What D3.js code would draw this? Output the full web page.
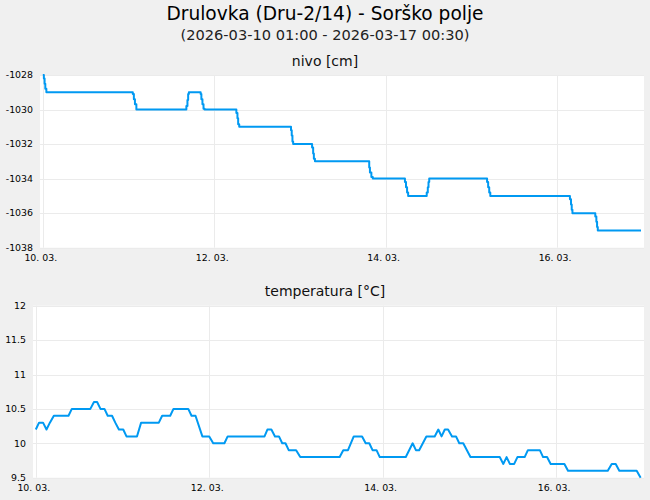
<!DOCTYPE html>
<html>
<head>
<meta charset="utf-8">
<script src="https://cdn.jsdelivr.net/npm/d3@7"></script>
<style>
  body { margin: 0; background: #f0f0f0; }
  svg { display: block; font-family: "DejaVu Sans", sans-serif; }
</style>
</head>
<body>
<svg id="chart" width="650" height="500"></svg>
<script>
// data: hours after 2026-03-10 00:00
const nivoHours = [0, 0.3, 0.5, 0.7, 1.0, 25.0, 25.2, 25.5, 25.8, 26.2, 40.0, 40.2, 40.5, 40.7, 40.9,
    44.0, 44.2, 44.4, 44.7, 45.0, 45.3, 54.0, 54.2, 54.5, 54.7, 55.0, 69.3, 69.5, 69.7, 69.9, 70.1,
    75.2, 75.4, 75.7, 75.9, 76.2, 91.1, 91.4, 91.6, 92.0, 92.4, 101.1, 101.4, 101.7, 102.0, 102.3,
    107.3, 107.5, 107.8, 108.0, 108.2, 124.1, 124.4, 124.7, 125.0, 125.3, 147.4, 147.6, 147.9, 148.1, 148.3,
    154.5, 154.7, 155.0, 155.2, 155.4, 167.5];
const nivoValues = [-1028, -1028.2, -1028.5, -1028.8, -1029, -1029, -1029.1, -1029.4, -1029.7, -1030, -1030, -1029.8, -1029.45, -1029.1, -1029,
    -1029, -1029.1, -1029.4, -1029.7, -1029.95, -1030, -1030, -1030.2, -1030.5, -1030.85, -1031, -1031, -1031.2, -1031.5, -1031.85, -1032,
    -1032, -1032.2, -1032.55, -1032.85, -1033, -1033, -1033.35, -1033.65, -1033.9, -1034, -1034, -1034.2, -1034.5, -1034.8, -1035,
    -1035, -1034.8, -1034.5, -1034.2, -1034, -1034, -1034.2, -1034.5, -1034.8, -1035, -1035, -1035.2, -1035.5, -1035.8, -1036,
    -1036, -1036.2, -1036.5, -1036.8, -1037, -1037];

const tempHours = [0, 0.9, 2.0, 2.96, 3.9, 5.0, 9.05, 9.97, 15.1, 16.1, 16.97, 17.9, 19.0, 19.9, 21.1, 22.0, 23.0,
    24.2, 25.1, 28.0, 29.15, 34.05, 34.97, 37.2, 38.1, 42.2, 43.1, 44.2, 46.1, 48.0, 49.1, 52.2, 53.1,
    63.3, 64.1, 65.2, 66.2, 67.3, 68.2, 69.1, 70.0, 72.05, 73.2, 84.1, 85.1, 86.4, 88.0, 90.3, 91.3,
    92.3, 93.2, 94.3, 95.2, 102.4, 104.3, 105.2, 106.1, 108.1, 110.4, 111.4, 112.3, 113.2, 114.1, 115.2,
    116.3, 117.2, 118.3, 120.3, 128.4, 129.4, 130.3, 131.2, 132.4, 133.3, 135.3, 136.2, 139.5, 140.4,
    141.5, 142.5, 146.3, 147.3, 158.3, 159.4, 160.5, 161.5, 166.3, 167.4];
const tempValues = [10.2, 10.3, 10.3, 10.2, 10.3, 10.4, 10.4, 10.5, 10.5, 10.6, 10.6, 10.5, 10.5, 10.4, 10.4, 10.3, 10.2,
    10.2, 10.1, 10.1, 10.3, 10.3, 10.4, 10.4, 10.5, 10.5, 10.4, 10.4, 10.1, 10.1, 10.0, 10.0, 10.1,
    10.1, 10.2, 10.2, 10.1, 10.1, 10.0, 10.0, 9.9, 9.9, 9.8, 9.8, 9.9, 9.9, 10.1, 10.1, 10.0,
    10.0, 9.9, 9.9, 9.8, 9.8, 10.0, 9.9, 9.9, 10.1, 10.1, 10.2, 10.1, 10.2, 10.2, 10.1,
    10.1, 10.0, 10.0, 9.8, 9.8, 9.7, 9.8, 9.7, 9.7, 9.8, 9.8, 9.9, 9.9, 9.8,
    9.8, 9.7, 9.7, 9.6, 9.6, 9.7, 9.7, 9.6, 9.6, 9.5];

const nivoTicks = [-1038, -1036, -1034, -1032, -1030, -1028];
const tempTicks = [9.5, 10, 10.5, 11, 11.5, 12];

const title = "Drulovka (Dru-2/14) - Sorško polje";
const subtitle = "(2026-03-10 01:00 - 2026-03-17 00:30)";

const start = Date.UTC(2026, 2, 10, 0, 0);
const toDate = h => new Date(start + h * 3600 * 1000);
const endDate = toDate(167.5);

const svg = d3.select("#chart");
const lineColor = "#0099f2";
const gridColor = "#ebebeb";

svg.append("text").attr("x", 325).attr("y", 20).attr("text-anchor", "middle")
    .attr("font-size", 18.6).attr("fill", "#000").text(title);
svg.append("text").attr("x", 325).attr("y", 39.5).attr("text-anchor", "middle")
    .attr("font-size", 14.6).attr("fill", "#222").text(subtitle);

function panel(opts) {
    const { id, name, nameY, left, top, bottom, dataLeft, hours, values, yDomain, yTicks, yFormat, curve } = opts;
    const right = 644, dataRight = 641;
    const g = svg.append("g");

    g.append("text").attr("x", 325).attr("y", nameY).attr("text-anchor", "middle")
        .attr("font-size", 14).attr("fill", "#111").text(name);

    g.append("rect").attr("x", left).attr("y", top)
        .attr("width", right - left).attr("height", bottom - top).attr("fill", "#fff");

    const x = d3.scaleUtc().domain([toDate(0), endDate]).range([dataLeft, dataRight]);
    const y = d3.scaleLinear().domain(yDomain).range([bottom, top]);
    // every second day, counted from the first day
    const xTicks = d3.utcDay.range(toDate(0), endDate).filter((d, i) => i % 2 === 0);

    g.append("g").selectAll("line").data(yTicks).join("line")
        .attr("x1", left).attr("x2", right)
        .attr("y1", d => Math.round(y(d)) + 0.5).attr("y2", d => Math.round(y(d)) + 0.5)
        .attr("stroke", gridColor);
    g.append("g").selectAll("line").data(xTicks).join("line")
        .attr("x1", d => Math.round(x(d)) + 0.5).attr("x2", d => Math.round(x(d)) + 0.5)
        .attr("y1", top).attr("y2", bottom)
        .attr("stroke", gridColor);

    // y labels
    g.append("g").selectAll("text").data(yTicks).join("text")
        .attr("x", left - 7).attr("y", d => y(d)).attr("dy", "0.35em")
        .attr("text-anchor", "end").attr("font-size", 9.4).attr("fill", "#000")
        .text(yFormat);
    // x labels
    g.append("g").selectAll("text").data(xTicks).join("text")
        .attr("x", d => x(d) - 2).attr("y", bottom + 13)
        .attr("text-anchor", "middle").attr("font-size", 9.4).attr("fill", "#000")
        .text(d3.utcFormat("%d. %m."));

    g.append("clipPath").attr("id", id).append("rect")
        .attr("x", left).attr("y", top - 2).attr("width", right - left).attr("height", bottom - top + 4);

    const pts = hours.map((h, i) => [toDate(h), values[i]]);
    const line = d3.line().x(d => x(d[0])).y(d => y(d[1])).curve(curve);
    g.append("path").datum(pts)
        .attr("clip-path", `url(#${id})`)
        .attr("d", line)
        .attr("fill", "none")
        .attr("stroke", lineColor)
        .attr("stroke-width", 2)
        .attr("stroke-linejoin", "round");
}

panel({
    id: "clipNivo", name: "nivo [cm]", nameY: 65.5,
    left: 40, top: 75, bottom: 247.7, dataLeft: 42.8,
    hours: nivoHours, values: nivoValues,
    yDomain: [-1038, -1028], yTicks: nivoTicks, yFormat: d => d3.format("d")(d).replace("−", "-"),
    curve: d3.curveStepAfter
});

panel({
    id: "clipTemp", name: "temperatura [°C]", nameY: 295.5,
    left: 33, top: 305.7, bottom: 477.7, dataLeft: 35.8,
    hours: tempHours, values: tempValues,
    yDomain: [9.5, 12], yTicks: tempTicks, yFormat: d => String(d),
    curve: d3.curveLinear
});
</script>
</body>
</html>
